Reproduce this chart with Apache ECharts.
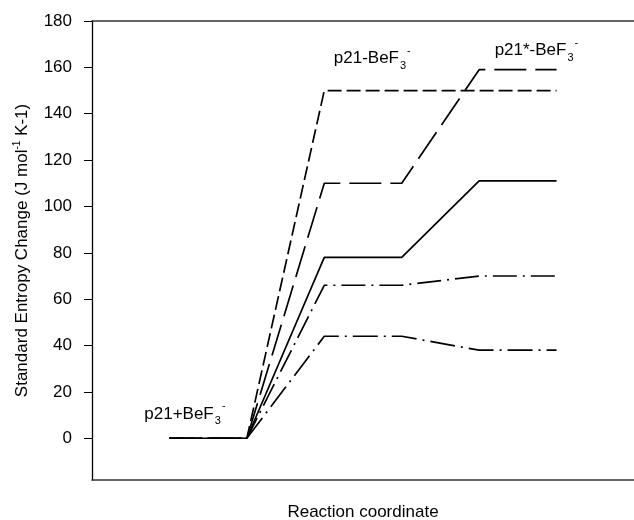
<!DOCTYPE html>
<html>
<head>
<meta charset="utf-8">
<script src="https://cdn.jsdelivr.net/npm/echarts@6/dist/echarts.min.js"></script>
<style>html,body{margin:0;padding:0;background:#fff}#c{width:634px;height:520px}</style>
</head>
<body>
<div id="c"></div>
<script>
// Reaction-coordinate stages (x positions of the plateau end points)
const stages = [1, 2, 3, 4, 5, 6];
// Standard entropy change values for each curve at each stage
const curveLongDash = [0, 0, 150, 150, 150, 150];
const curveVeryLongDash = [0, 0, 110, 110, 159, 159];
const curveSolid = [0, 0, 78, 78, 111, 111];
const curveDashDot1 = [0, 0, 66, 66, 70, 70];
const curveDashDot2 = [0, 0, 44, 44, 38, 38];
// Y tick labels
const yTicks = [0, 20, 40, 60, 80, 100, 120, 140, 160, 180];
// State labels
const stateNames = ['p21+BeF', 'p21-BeF', 'p21*-BeF'];

const FONT = 'Liberation Sans, Arial, sans-serif';
const FS = 17;
const chart = echarts.init(document.getElementById('c'), null, {renderer: 'canvas'});

function pts(vals) { return stages.map((x, i) => [x, vals[i]]); }

function lineSeries(vals, dash, z) {
  return {
    type: 'line', data: pts(vals), symbol: 'none', z: z, animation: false,
    lineStyle: {color: '#000', width: 1.7, type: dash}
  };
}

const base = {fontFamily: FONT, color: '#000', textBorderWidth: 0, textShadowBlur: 0, lineHeight: 26};
const richLabel = {
  m: Object.assign({}, base, {fontSize: FS, verticalAlign: 'middle'}),
  sub: Object.assign({}, base, {fontSize: 11, verticalAlign: 'bottom', padding: [0, 0, 0, 1]}),
  sup: Object.assign({}, base, {fontSize: 11, verticalAlign: 'top', padding: [0, 0, 0, 1]})
};

// label anchors in data coordinates
const labelAnchors = [[1.2, 10.5], [3.62, 164], [5.74, 167.5]];

chart.setOption({
  animation: false,
  grid: {left: 92, right: 0, top: 21, bottom: 40, containLabel: false, outerBoundsMode: 'none'},
  xAxis: [{
    type: 'value', min: 0, max: 7, position: 'bottom',
    axisLine: {show: true, onZero: false, lineStyle: {color: '#333', width: 1.5}},
    axisTick: {show: false}, axisLabel: {show: false}, splitLine: {show: false},
    name: 'Reaction coordinate', nameLocation: 'middle', nameGap: 24,
    nameTextStyle: {fontSize: FS, fontFamily: FONT, color: '#000'}
  }, {
    type: 'value', min: 0, max: 7, position: 'top',
    axisLine: {show: true, onZero: false, lineStyle: {color: '#333', width: 1.5}},
    axisTick: {show: false}, axisLabel: {show: false}, splitLine: {show: false}
  }],
  yAxis: {
    type: 'value', min: -18, max: 180,
    axisLine: {show: true, onZero: false, lineStyle: {color: '#000', width: 1.3}},
    axisTick: {show: true, length: 8, inside: false, customValues: yTicks, lineStyle: {color: '#000', width: 1}},
    axisLabel: {customValues: yTicks, margin: 20, fontSize: FS, fontFamily: FONT, color: '#000'},
    splitLine: {show: false},
    name: '{m|Standard Entropy Change (J mol}{s|-1}{m| K-1)}',
    nameLocation: 'middle', nameGap: 60, nameRotate: 90,
    nameTextStyle: {
      fontSize: FS, fontFamily: FONT, color: '#000',
      rich: {
        m: {fontSize: FS, fontFamily: FONT, color: '#000', lineHeight: 20, verticalAlign: 'middle'},
        s: {fontSize: 10, fontFamily: FONT, color: '#000', lineHeight: 20, verticalAlign: 'top'}
      }
    }
  },
  series: [
    lineSeries(curveDashDot2, [25, 6, 2, 6], 2),
    lineSeries(curveDashDot1, [24, 6, 2, 6], 3),
    lineSeries(curveVeryLongDash, [32, 9], 4),
    lineSeries(curveLongDash, [14, 5], 5),
    lineSeries(curveSolid, 'solid', 6),
    {
      type: 'scatter', symbolSize: 0, z: 10, silent: true,
      itemStyle: {color: '#000', opacity: 1},
      data: labelAnchors.map((p, i) => ({value: p, name: stateNames[i]})),
      label: {
        show: true, position: 'inside', color: '#000', textBorderWidth: 0, opacity: 1,
        formatter: p => '{m|' + p.name + '}{sub|3}{sup|-}',
        rich: richLabel
      }
    }
  ]
});
</script>
</body>
</html>
